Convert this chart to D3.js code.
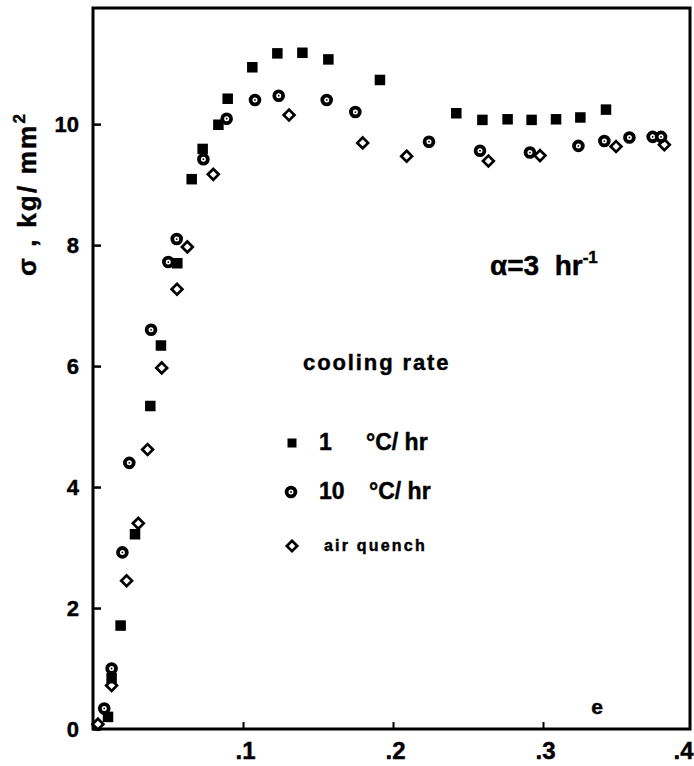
<!DOCTYPE html>
<html><head><meta charset="utf-8">
<script src="https://cdn.jsdelivr.net/npm/d3@7"></script>
<style>
html,body{margin:0;padding:0;background:#fff;}
svg{display:block;font-family:"Liberation Sans",Arial,sans-serif;font-weight:bold;}
svg text{stroke:#000;stroke-width:0.45px;fill:#000;}
</style></head>
<body>
<svg id="chart" width="694" height="766"></svg>
<script>
// ---- data ----
const xTicks = [0.1, 0.2, 0.3, 0.4];
const xTickLabels = [".1", ".2", ".3", ".4"];
const yTicks = [0, 2, 4, 6, 8, 10];
const yTickLabels = ["0", "2", "4", "6", "8", "10"];

// 1 °C/hr (filled squares)
const slowX = [0.010,0.0124,0.0184,0.028,0.0382,0.0453,0.0562,0.0658,0.0731,0.0836,0.0898,0.1062,0.1229,0.1396,0.1569,0.1913,0.2422,0.2596,0.2764,0.2924,0.3087,0.3249,0.342];
const slowY = [0.20,0.84,1.71,3.22,5.34,6.34,7.70,9.09,9.59,9.99,10.42,10.94,11.17,11.18,11.07,10.73,10.18,10.07,10.08,10.07,10.08,10.11,10.24];

// 10 °C/hr (dotted circles)
const midX = [0.0075,0.0124,0.0196,0.0242,0.0387,0.0502,0.0558,0.0736,0.0891,0.108,0.1238,0.1558,0.1749,0.224,0.258,0.2913,0.3236,0.3409,0.3576,0.3731,0.3787];
const midY = [0.34,1.00,2.92,4.40,6.60,7.72,8.10,9.42,10.09,10.40,10.47,10.40,10.20,9.71,9.56,9.53,9.64,9.72,9.78,9.79,9.79];

// air quench (open diamonds)
const airX = [0.0033,0.0124,0.0224,0.0302,0.0364,0.0458,0.056,0.0629,0.0802,0.1307,0.1798,0.2091,0.2636,0.298,0.3487,0.3809];
const airY = [0.08,0.72,2.45,3.40,4.62,5.97,7.27,7.97,9.17,10.15,9.69,9.47,9.39,9.48,9.63,9.66];

const legendLabels = ["1", "10", "air quench"];

// ---- drawing ----
const svg = d3.select("#chart");
const L = 93, R = 690, T = 8, B = 729;
const x = d3.scaleLinear().domain([0, 0.398]).range([L, R]);
const y = d3.scaleLinear().domain([0, 11.92]).range([B, T]);

const zip = (a, b) => a.map((v, i) => [v, b[i]]);

// frame
svg.append("path")
  .attr("d", `M${L},${T}H${R}V${B}H${L}Z`)
  .attr("fill", "none").attr("stroke", "#000").attr("stroke-width", 3);

const yAxis = svg.append("g").attr("transform", `translate(${L},0)`)
  .call(d3.axisLeft(y).tickValues(yTicks).tickFormat((d, i) => yTickLabels[i])
    .tickSizeInner(-8).tickSizeOuter(0).tickPadding(14));
yAxis.select(".domain").remove();
yAxis.selectAll("line").attr("stroke-width", 2.5);
yAxis.selectAll("text").attr("font-size", 22).attr("font-weight", "bold")
  .attr("font-family", "Liberation Sans, Arial, sans-serif").attr("fill", "#000");

const xAxis = svg.append("g").attr("transform", `translate(0,${B})`)
  .call(d3.axisBottom(x).tickValues(xTicks).tickFormat((d, i) => xTickLabels[i])
    .tickSizeInner(-7).tickSizeOuter(0).tickPadding(13));
xAxis.select(".domain").remove();
xAxis.selectAll("line").attr("stroke-width", 2);
xAxis.selectAll("text").attr("font-size", 24).attr("font-weight", "bold")
  .attr("font-family", "Liberation Sans, Arial, sans-serif").attr("fill", "#000")
  .attr("dx", 2);
// keep the last label inside the window
xAxis.selectAll(".tick").filter(d => d === 0.4).select("text")
  .attr("text-anchor", "end").attr("dx", 0)
  .attr("x", 693 - x(0.4));
xAxis.selectAll(".tick").filter(d => d === 0.4).select("line").remove();

// y title
svg.append("text")
  .attr("transform", "translate(36,194) rotate(-90)")
  .attr("text-anchor", "middle").attr("font-size", 26)
  .attr("letter-spacing", 2.2)
  .html('σ , kg/ mm<tspan dy="-11" font-size="17">2</tspan>');

// markers
function square(g, cx, cy, s) {
  g.append("rect").attr("x", cx - s / 2).attr("y", cy - s / 2)
    .attr("width", s).attr("height", s).attr("fill", "#000");
}
function ring(g, cx, cy) {
  g.append("circle").attr("cx", cx).attr("cy", cy).attr("r", 4.4)
    .attr("fill", "#fff").attr("stroke", "#000").attr("stroke-width", 3.8);
  g.append("circle").attr("cx", cx).attr("cy", cy).attr("r", 0.9).attr("fill", "#000");
}
function diamond(g, cx, cy, h) {
  g.append("path").attr("d", `M${cx},${cy - h}L${cx + h},${cy}L${cx},${cy + h}L${cx - h},${cy}Z`)
    .attr("fill", "#fff").attr("stroke", "#000").attr("stroke-width", 2.7);
}

const gAir = svg.append("g");
zip(airX, airY).forEach(d => diamond(gAir, x(d[0]), y(d[1]), 5.4));
const gMid = svg.append("g");
zip(midX, midY).forEach(d => ring(gMid, x(d[0]), y(d[1])));
const gSlow = svg.append("g");
zip(slowX, slowY).forEach(d => square(gSlow, x(d[0]), y(d[1]), 10.5));

// annotations
svg.append("text").attr("x", 490).attr("y", 275).attr("font-size", 28)
  .html('α=3&#160;&#160;hr<tspan dy="-12" font-size="17">-1</tspan>');

svg.append("text").attr("x", 303).attr("y", 370).attr("font-size", 22)
  .attr("letter-spacing", 1.9).text("cooling  rate");

const lg = svg.append("g");
square(lg, 292, 443, 9);
ring(lg, 291, 492);
diamond(lg, 292, 546, 5.2);
lg.append("text").attr("x", 319).attr("y", 450).attr("font-size", 23).text(legendLabels[0]);
lg.append("text").attr("x", 366).attr("y", 450).attr("font-size", 23).html('°C/ hr');
lg.append("text").attr("x", 319).attr("y", 499).attr("font-size", 23).text(legendLabels[1]);
lg.append("text").attr("x", 369).attr("y", 499).attr("font-size", 23).html('°C/ hr');
lg.append("text").attr("x", 324).attr("y", 551).attr("font-size", 16)
  .attr("letter-spacing", 2.2).text("air  " + "quench");

svg.append("text").attr("x", 597).attr("y", 714).attr("text-anchor", "middle")
  .attr("font-size", 21).text("e");
</script>
</body></html>
